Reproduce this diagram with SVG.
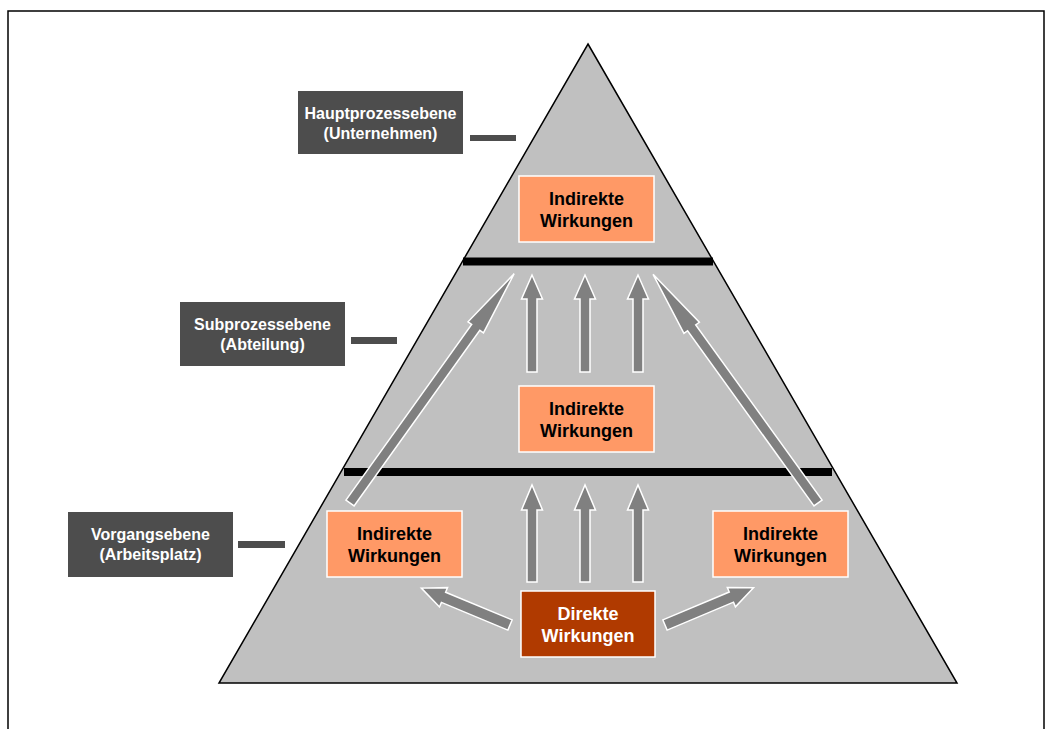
<svg xmlns="http://www.w3.org/2000/svg" width="1051" height="729" viewBox="0 0 1051 729">
<style>
.lbl{fill:#4d4d4d}
.lt{fill:#fff;font-family:"Liberation Sans",Arial,sans-serif;font-weight:bold;font-size:16px;text-anchor:middle}
.ob{fill:#ff9966;stroke:#fff;stroke-width:1.5}
.db{fill:#b03a00;stroke:#fff;stroke-width:1.5}
.ot{fill:#000;font-family:"Liberation Sans",Arial,sans-serif;font-weight:bold;font-size:18px;text-anchor:middle}
.dt{fill:#fff;font-family:"Liberation Sans",Arial,sans-serif;font-weight:bold;font-size:18px;text-anchor:middle}
.ar{fill:#808080;stroke:#fff;stroke-width:1.5;stroke-linejoin:miter}
.bar{fill:#000}
</style>
<rect width="1051" height="729" fill="#fff"/>
<path d="M8,729 V11 H1044 V729" fill="none" stroke="#000" stroke-width="1.5"/>
<g id="pyramid">
<polygon points="588,44 957,683 219,683" fill="#c0c0c0" stroke="#000" stroke-width="1.5"/>
<rect class="bar" x="463" y="257.5" width="250" height="8"/>
<rect class="bar" x="344" y="468" width="488" height="8"/>
</g>
<g id="label-haupt">
<rect class="lbl" x="298" y="91" width="165" height="63"/>
<text class="lt" x="380.5" y="119">Hauptprozessebene</text>
<text class="lt" x="380.5" y="139">(Unternehmen)</text>
<rect class="lbl" x="470" y="135" width="46" height="6"/>
</g>
<g id="label-sub">
<rect class="lbl" x="180" y="302" width="165" height="64"/>
<text class="lt" x="262.5" y="330">Subprozessebene</text>
<text class="lt" x="262.5" y="350">(Abteilung)</text>
<rect class="lbl" x="351" y="337" width="46" height="7"/>
</g>
<g id="label-vorgang">
<rect class="lbl" x="68" y="512" width="165" height="65"/>
<text class="lt" x="150.5" y="540">Vorgangsebene</text>
<text class="lt" x="150.5" y="560">(Arbeitsplatz)</text>
<rect class="lbl" x="238" y="541" width="47" height="7"/>
</g>
<g id="connectors">
<path class="ar" d="M527,372 V299 H521.5 L532,275 L542.5,299 H537 V372 Z"/>
<path class="ar" d="M580,372 V299 H574.5 L585,275 L595.5,299 H590 V372 Z"/>
<path class="ar" d="M633,372 V299 H627.5 L638,275 L648.5,299 H643 V372 Z"/>
<path class="ar" d="M527,582 V510 H521.5 L532,485 L542.5,510 H537 V582 Z"/>
<path class="ar" d="M580,582 V510 H574.5 L585,485 L595.5,510 H590 V582 Z"/>
<path class="ar" d="M633,582 V510 H627.5 L638,485 L648.5,510 H643 V582 Z"/>
<polygon class="ar" transform="translate(350,503) rotate(-54.4)" points="0,-5 216,-5 216,-9.5 282,0 216,9.5 216,5 0,5"/>
<polygon class="ar" transform="translate(818,503) rotate(-125.8)" points="0,-5 216,-5 216,-9.5 282,0 216,9.5 216,5 0,5"/>
<polygon class="ar" transform="translate(510,625) rotate(-157.4)" points="0,-5.5 72,-5.5 72,-10.5 96,0 72,10.5 72,5.5 0,5.5"/>
<polygon class="ar" transform="translate(665,625) rotate(-22.8)" points="0,-5.5 72,-5.5 72,-10.5 96,0 72,10.5 72,5.5 0,5.5"/>
</g>
<g id="indirekt-top">
<rect class="ob" x="519" y="176" width="135" height="66"/>
<text class="ot" x="586.5" y="205">Indirekte</text>
<text class="ot" x="586.5" y="227">Wirkungen</text>
</g>
<g id="indirekt-mid">
<rect class="ob" x="519" y="386" width="135" height="66"/>
<text class="ot" x="586.5" y="415">Indirekte</text>
<text class="ot" x="586.5" y="437">Wirkungen</text>
</g>
<g id="indirekt-left">
<rect class="ob" x="327" y="511" width="135" height="66"/>
<text class="ot" x="394.5" y="540">Indirekte</text>
<text class="ot" x="394.5" y="562">Wirkungen</text>
</g>
<g id="indirekt-right">
<rect class="ob" x="713" y="511" width="135" height="66"/>
<text class="ot" x="780.5" y="540">Indirekte</text>
<text class="ot" x="780.5" y="562">Wirkungen</text>
</g>
<g id="direkt">
<rect class="db" x="521" y="591" width="134" height="66"/>
<text class="dt" x="588" y="620">Direkte</text>
<text class="dt" x="588" y="642">Wirkungen</text>
</g>
</svg>
